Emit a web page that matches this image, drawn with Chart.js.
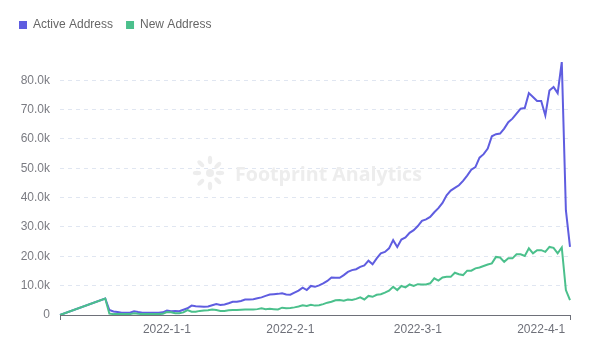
<!DOCTYPE html>
<html>
<head>
<meta charset="utf-8">
<script src="https://cdn.jsdelivr.net/npm/chart.js@4.4.0/dist/chart.umd.min.js"></script>
<style>
  html, body { margin: 0; padding: 0; background: #fff; }
  #wrap { width: 604px; height: 353px; position: relative; }
</style>
</head>
<body>
<div id="wrap"><canvas id="c"></canvas></div>
<script>
// ---- data (values in thousands) ----
const activeAddress = [
  0, null, null, null, null, null, null, null, null, null, null,
  5.6, 1.7, 1.2, 1.0, 0.8, 0.8, 0.8, 1.3, 1.0, 0.8,
  0.8, 0.8, 0.8, 0.8, 0.9, 1.5, 1.3, 1.4, 1.3, 1.8,
  2.3, 3.2, 3.0, 2.9, 2.8, 2.9, 3.3, 3.7, 3.4, 3.6,
  4.0, 4.5, 4.5, 4.8, 5.3, 5.3, 5.4, 5.7, 6.0, 6.5,
  7.0, 7.1, 7.2, 7.4, 7.0, 6.9, 7.6, 8.3, 9.3, 8.5,
  9.9, 9.6, 10.1, 10.8, 11.6, 12.8, 12.7, 12.7, 13.6, 14.7,
  15.3, 15.6, 16.4, 16.9, 18.5, 17.3, 19.3, 21.0, 21.5, 22.7,
  25.5, 23.2, 25.7, 26.4, 28.0, 28.9, 30.3, 32.1, 32.6, 33.4,
  35.0, 36.4, 38.2, 40.8, 42.4, 43.3, 44.2, 45.7, 47.5, 49.5,
  50.4, 53.6, 54.8, 56.7, 60.9, 61.6, 61.8, 63.5, 65.7, 66.9,
  68.6, 70.3, 70.5, 75.6, 74.3, 72.9, 72.9, 68.0, 76.5, 77.7,
  75.6, 86.2, 35.7, 23.2
];
const newAddress = [
  0, null, null, null, null, null, null, null, null, null, null,
  5.6, 0.5, 0.3, 0.3, 0.3, 0.3, 0.3, 0.6, 0.4, 0.3,
  0.3, 0.3, 0.3, 0.3, 0.4, 1.0, 0.9, 0.6, 0.6, 0.9,
  1.7, 1.1, 1.1, 1.4, 1.5, 1.6, 1.9, 1.7, 1.4, 1.4,
  1.6, 1.7, 1.7, 1.8, 1.9, 1.9, 1.9, 2.0, 2.3, 2.0,
  2.1, 2.0, 1.9, 2.5, 2.3, 2.4, 2.6, 2.9, 3.3, 3.1,
  3.5, 3.2, 3.3, 3.7, 4.2, 4.5, 5.0, 5.1, 4.9, 5.3,
  5.1, 5.5, 6.0, 5.3, 6.5, 6.2, 6.9, 7.1, 7.6, 8.3,
  9.6, 8.5, 9.9, 9.4, 10.4, 9.9, 10.5, 10.4, 10.4, 10.8,
  12.5, 11.7, 12.8, 13.0, 13.0, 14.4, 13.9, 13.6, 15.1, 15.1,
  15.9, 16.2, 16.7, 17.2, 17.6, 19.8, 19.6, 18.1, 19.3, 19.3,
  20.7, 20.7, 20.1, 22.7, 21.0, 22.1, 22.1, 21.5, 23.2, 22.9,
  21.0, 23.0, 8.5, 5.1
];
const tickLabels = ['2022-1-1', '2022-2-1', '2022-3-1', '2022-4-1'];
const tickAt = [26, 56, 87, 117];
const seriesNames = ['Active Address', 'New Address'];
const categories = activeAddress.map((_, i) => {
  const k = tickAt.indexOf(i);
  return k >= 0 ? tickLabels[k] : '';
});

const ACTIVE = '#5f5de0';
const NEW = '#4bc08c';

const yMax = Math.max(...activeAddress.filter(v => v !== null));

const watermark = {
  id: 'watermark',
  beforeDatasetsDraw(chart) {
    const ctx = chart.ctx;
    ctx.save();
    ctx.fillStyle = '#ededed';
    const cx = 210, cy = 173;
    ctx.beginPath(); ctx.arc(cx, cy, 4, 0, Math.PI * 2); ctx.fill();
    const petals = [[-90, 13], [-135, 13], [180, 13], [135, 13], [90, 13], [-45, 11], [45, 11], [0, 10]];
    petals.forEach(([a, r]) => {
      const t = a * Math.PI / 180;
      ctx.beginPath();
      ctx.ellipse(cx + Math.cos(t) * r, cy + Math.sin(t) * r, 4.2, 2.2, t, 0, Math.PI * 2);
      ctx.fill();
    });
    ctx.font = 'bold 21px "Open Sans", "Liberation Sans", sans-serif';
    const w = ctx.measureText('Footprint Analytics').width;
    const size = 21 * 187 / w;
    ctx.font = 'bold ' + size.toFixed(1) + 'px "Open Sans", "Liberation Sans", sans-serif';
    ctx.textBaseline = 'middle';
    ctx.textAlign = 'left';
    ctx.fillText('Footprint Analytics', 235, 175);
    ctx.restore();
  }
};

const legendSpace = {
  id: 'legendSpace',
  beforeInit(chart) {
    const lg = chart.legend;
    if (lg) {
      const orig = lg.fit;
      lg.fit = function () { orig.call(this); this.height += 21; };
    }
  }
};

Chart.defaults.font.family = '"Liberation Sans", Arial, sans-serif';
Chart.defaults.font.size = 12;

new Chart(document.getElementById('c'), {
  type: 'line',
  data: {
    labels: categories,
    datasets: [
      {
        label: seriesNames[0], data: activeAddress,
        borderColor: ACTIVE, backgroundColor: ACTIVE,
        borderWidth: 2, pointRadius: 0, tension: 0, spanGaps: true, order: 1
      },
      {
        label: seriesNames[1], data: newAddress,
        borderColor: NEW, backgroundColor: NEW,
        borderWidth: 2, pointRadius: 0, tension: 0, spanGaps: true, order: 0
      }
    ]
  },
  options: {
    responsive: true,
    maintainAspectRatio: false,
    animation: false,
    layout: { padding: { left: 6, top: 6, right: 34, bottom: 0 } },
    plugins: {
      tooltip: { enabled: false },
      legend: {
        display: true,
        position: 'top',
        align: 'start',
        labels: {
          boxWidth: 8, boxHeight: 8, padding: 13, color: '#666',
          font: { size: 12 },
          sort: (a, b) => a.datasetIndex - b.datasetIndex,
          generateLabels(chart) {
            return Chart.defaults.plugins.legend.labels.generateLabels(chart)
              .map(l => Object.assign(l, { strokeStyle: 'rgba(0,0,0,0)', lineWidth: 0 }));
          }
        }
      }
    },
    scales: {
      x: {
        type: 'category',
        offset: false,
        afterFit(scale) { scale.height = 38; },
        grid: {
          display: true, drawOnChartArea: false, drawTicks: true, tickLength: 5,
          color: ctx => (ctx.index === 0 || ctx.index === categories.length - 1) ? '#6E7079' : 'rgba(0,0,0,0)'
        },
        border: { display: true, color: '#6E7079', width: 1 },
        ticks: {
          autoSkip: false, maxRotation: 0, minRotation: 0, padding: 2,
          color: '#6E7079', font: { size: 12 },
          callback: (v, i) => categories[i]
        }
      },
      y: {
        min: 0,
        max: yMax,
        afterFit(scale) { scale.width = 54; },
        grid: {
          drawTicks: false,
          color: ctx => ctx.tick && ctx.tick.value === 0 ? 'rgba(0,0,0,0)' : '#E0E6F1'
        },
        border: { display: false, dash: [4, 4] },
        ticks: {
          stepSize: 10, includeBounds: false, padding: 10,
          color: '#7a7b82', font: { size: 12 },
          callback: v => v === 0 ? '0' : v.toFixed(1) + 'k'
        }
      }
    }
  },
  plugins: [legendSpace, watermark]
});
</script>
</body>
</html>
